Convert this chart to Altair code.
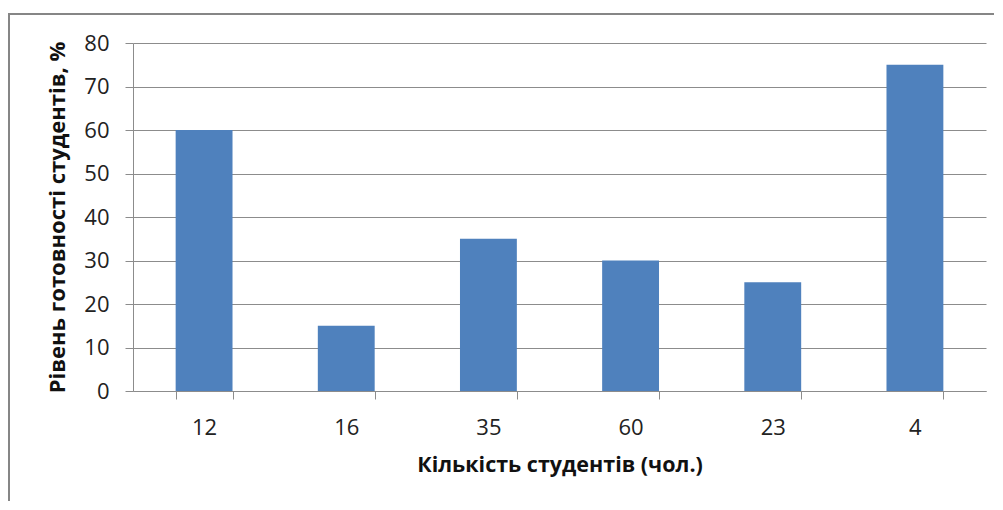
import altair as alt
import pandas as pd

categories = ["12", "16", "35", "60", "23", "4"]
values = [60, 15, 35, 30, 25, 75]

df = pd.DataFrame({"cat": categories, "val": values})

FONT = "Open Sans"
GRID = "#8c8c8c"

bars = alt.Chart(df).mark_bar(color="#4F81BD").encode(
    x=alt.X("cat:N", sort=categories,
            scale=alt.Scale(paddingInner=0.6, paddingOuter=0.3),
            axis=alt.Axis(title="Кількість студентів (чол.)", labelAngle=0,
                          tickBand="extent", tickSize=8, tickColor=GRID,
                          domainColor=GRID, labelPadding=18, titlePadding=16,
                          labelFontSize=22, titleFontSize=21.5, labelColor="#222",
                          titleFontWeight="bold", titleColor="#111",
                          labelFont=FONT, titleFont=FONT, grid=False)),
    y=alt.Y("val:Q", scale=alt.Scale(domain=[0, 80], nice=False),
            axis=alt.Axis(title="Рівень готовності студентів, %", values=list(range(0, 90, 10)),
                          tickSize=8, tickColor=GRID, domainColor=GRID, gridColor=GRID,
                          labelPadding=16, titlePadding=14, labelFontSize=22, titleFontSize=22,
                          labelColor="#222", titleFontWeight="bold", titleColor="#111",
                          labelFont=FONT, titleFont=FONT)),
)

frame = alt.Chart(df).mark_rect(fill=None, stroke="#868686", strokeWidth=2).encode(
    x=alt.value(-124), x2=alt.value(1000), y=alt.value(-29), y2=alt.value(700)
)

chart = alt.layer(frame, bars).properties(
    width=853, height=348,
    autosize=alt.AutoSizeParams(type="none"),
    padding={"left": 125, "top": 35, "right": 8, "bottom": 110},
    background="white",
).configure_view(stroke=None)

chart.save("out.html", embed_options={"renderer": "svg", "actions": False})
